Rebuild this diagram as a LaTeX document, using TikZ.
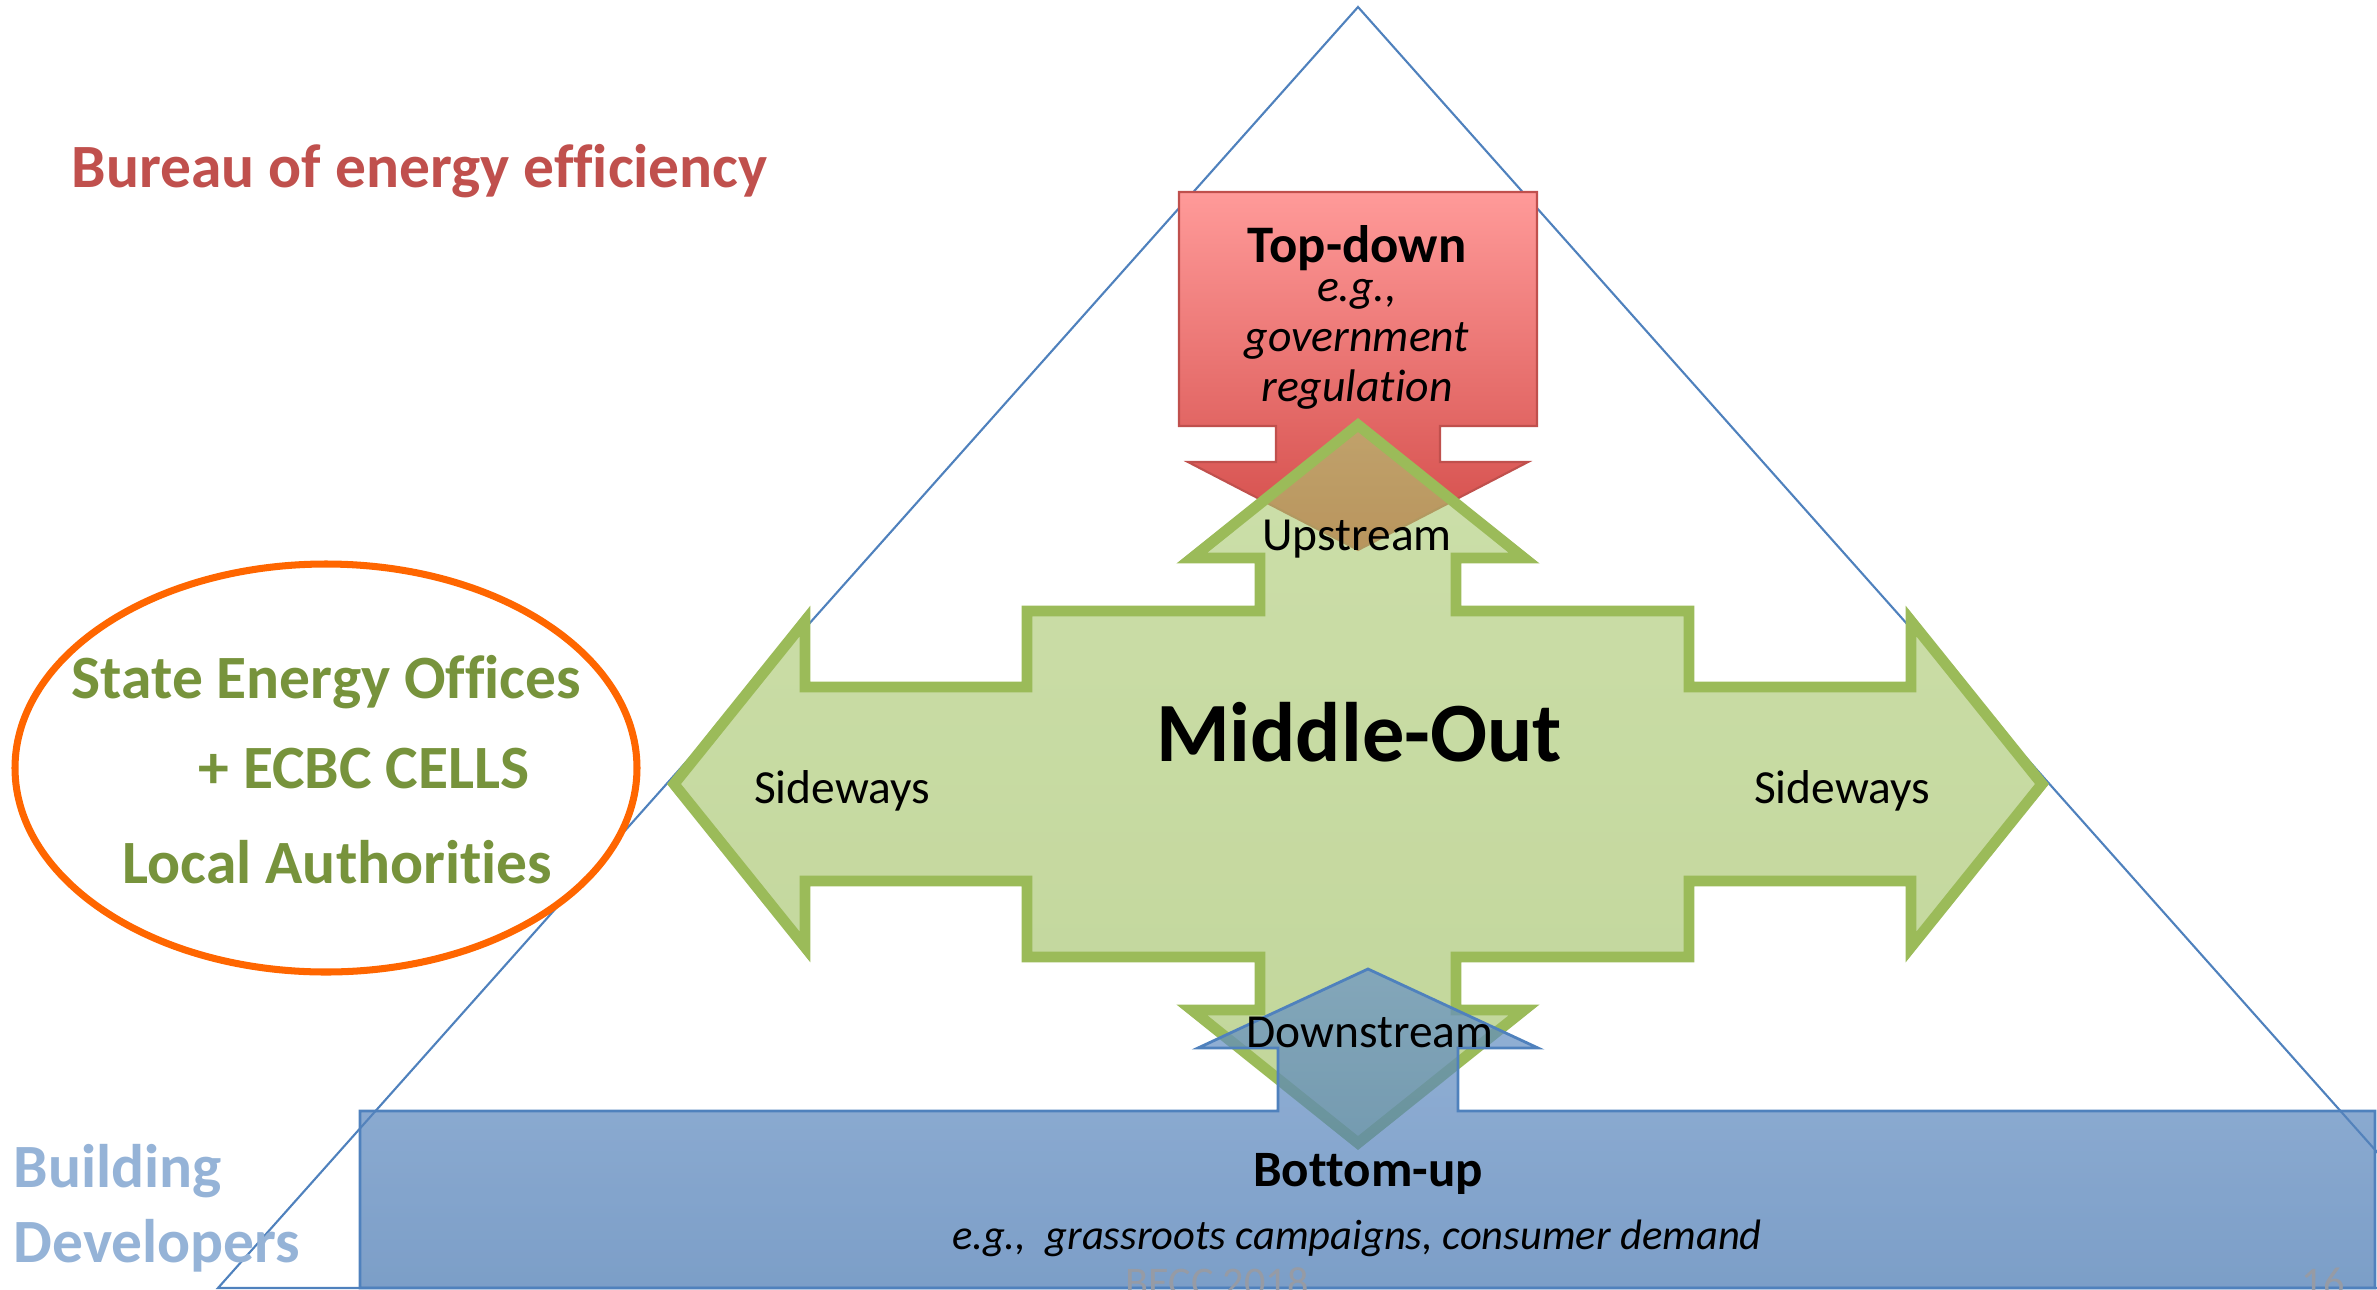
\documentclass[tikz,border=0pt]{standalone}
\usepackage{fontspec}
\setmainfont{Carlito}[Ligatures=NoCommon]
\definecolor{triblue}{RGB}{79,129,189}
\definecolor{redtop}{RGB}{255,154,153}
\definecolor{redbot}{RGB}{210,74,71}
\definecolor{redline}{RGB}{192,80,77}
\definecolor{greentop}{RGB}{171,202,113}
\definecolor{greenbot}{RGB}{153,187,88}
\definecolor{greenline}{RGB}{155,187,89}
\definecolor{bluetop}{RGB}{104,146,198}
\definecolor{bluebot}{RGB}{68,117,176}
\definecolor{ovalline}{RGB}{255,102,0}
\definecolor{txtgreen}{RGB}{119,147,60}
\definecolor{txtblue}{RGB}{149,179,215}
\definecolor{txtred}{RGB}{192,80,77}
\definecolor{footgray}{RGB}{150,155,165}
\begin{document}
\begin{tikzpicture}[x=0.01cm, y=-0.01cm,
	txt/.style={inner sep=0pt, anchor=base},
	big/.style={txt, anchor=base west, font=\fontsize{17.5}{20}\selectfont\bfseries},
	small/.style={txt, font=\fontsize{13.5}{16}\selectfont},
	eg/.style={txt, font=\fontsize{13}{16}\selectfont\itshape},
	foot/.style={txt, font=\fontsize{12}{15}\selectfont, footgray}]

	\useasboundingbox (0,0) rectangle (2377,1290);

	% Drawing pyramid
	\draw [triblue, line width=0.6pt] (1358,7)--(218,1288)--(2498,1288)--cycle;

	% Underlay for the middle shape
	\fill [white] (1358,425)--(1524,558)--(1456,558)--(1456,611)--(1689,611)--(1689,687)--(1911,687)--(1911,621)--(2042,784)--(1911,947)--(1911,881)--(1689,881)--(1689,957)--(1456,957)--(1456,1010)--(1524,1010)--(1358,1143)--(1192,1010)--(1260,1010)--(1260,957)--(1027,957)--(1027,881)--(805,881)--(805,947)--(674,784)--(805,621)--(805,687)--(1027,687)--(1027,611)--(1260,611)--(1260,558)--(1192,558)--cycle;

	% Top-down arrow
	\draw [redline, line width=0.6pt, top color=redtop, bottom color=redbot] (1179,192)--(1537,192)--(1537,426)--(1440,426)--(1440,462)--(1528,462)--(1358,550)--(1188,462)--(1276,462)--(1276,426)--(1179,426)--cycle;

	% Middle-out arrow
	\draw [greenline, line width=3.1pt, top color=greentop, bottom color=greenbot, fill opacity=0.6] (1358,425)--(1524,558)--(1456,558)--(1456,611)--(1689,611)--(1689,687)--(1911,687)--(1911,621)--(2042,784)--(1911,947)--(1911,881)--(1689,881)--(1689,957)--(1456,957)--(1456,1010)--(1524,1010)--(1358,1143)--(1192,1010)--(1260,1010)--(1260,957)--(1027,957)--(1027,881)--(805,881)--(805,947)--(674,784)--(805,621)--(805,687)--(1027,687)--(1027,611)--(1260,611)--(1260,558)--(1192,558)--cycle;

	% Bottom-up arrow
	\draw [triblue, line width=0.8pt, top color=bluetop, bottom color=bluebot, fill opacity=0.7] (360,1111)--(1278,1111)--(1278,1048)--(1198,1048)--(1368,969)--(1538,1048)--(1458,1048)--(1458,1111)--(2375,1111)--(2375,1288)--(360,1288)--cycle;

	% Oval
	\draw [ovalline, line width=2pt, fill=white] (326,768) ellipse [x radius=311, y radius=204];

	%Labelling left side
	\node [big, txtred] (bee) at (71,187){Bureau of energy efficiency};
	\node [big, txtgreen] (seo) at (71,698){State Energy Offices};
	\node [big, txtgreen] (ecbc) at (198,788){+ ECBC CELLS};
	\node [big, txtgreen] (local) at (122,883){Local Authorities};
	\node [big, txtblue] (build) at (13,1187){Building};
	\node [big, txtblue] (dev) at (13,1262){Developers};

	%Labelling arrows
	\node [txt, font=\fontsize{15}{18}\selectfont\bfseries] (topdown) at (1357,262){Top-down};
	\node [eg] (eg1) at (1357,301){e.g.,};
	\node [eg] (eg2) at (1357,351){government};
	\node [eg] (eg3) at (1357,401){regulation};
	\node [small] (up) at (1357,550){Upstream};
	\node [txt, font=\fontsize{24}{28}\selectfont\bfseries] (mid) at (1359,761){Middle-Out};
	\node [small] (sideL) at (842,803){Sideways};
	\node [small] (sideR) at (1842,803){Sideways};
	\node [small] (down) at (1370,1047){Downstream};
	\node [txt, font=\fontsize{14.5}{17}\selectfont\bfseries] (bottomup) at (1368,1186){Bottom-up};
	\node [txt, font=\fontsize{12.1}{15}\selectfont\itshape] (eg4) at (1357,1249){e.g.,~ grassroots campaigns, consumer demand};

	%Footer
	\node [foot] (becc) at (1217,1296){BECC 2018};
	\node [foot] (page) at (2323,1296){16};

\end{tikzpicture}
\end{document}
